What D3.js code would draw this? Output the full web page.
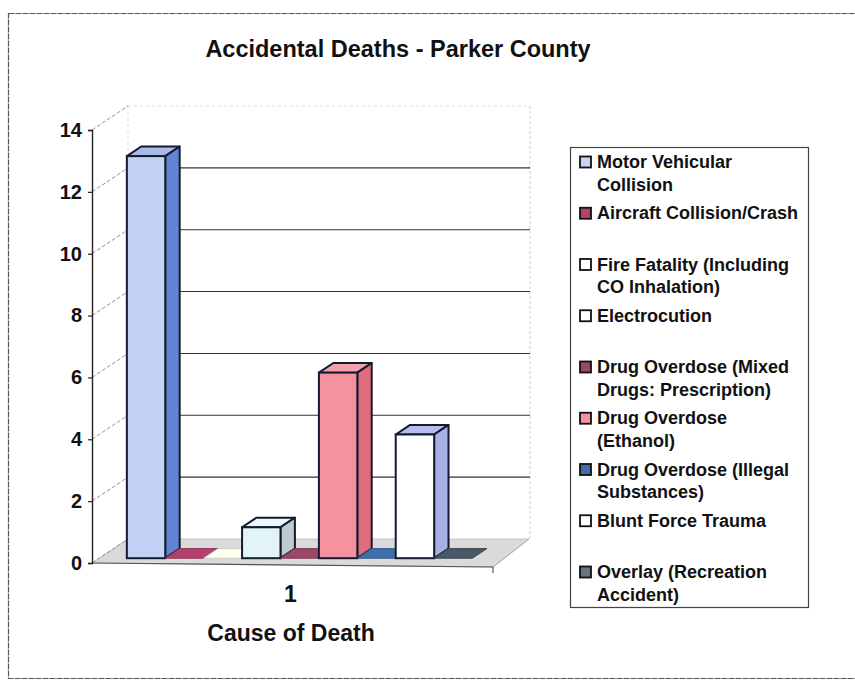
<!DOCTYPE html>
<html>
<head>
<meta charset="utf-8">
<script src="https://cdn.jsdelivr.net/npm/d3@7"></script>
<style>
  body { margin: 0; background: #fff; }
  svg text { font-family: Arial, "Liberation Sans", sans-serif; fill: #111; }
</style>
</head>
<body>
<div id="chart"></div>
<script>
// Chart data
var categories = ["1"];
var series = [
  "Motor Vehicular Collision",
  "Aircraft Collision/Crash",
  "Fire Fatality (Including CO Inhalation)",
  "Electrocution",
  "Drug Overdose (Mixed Drugs: Prescription)",
  "Drug Overdose (Ethanol)",
  "Drug Overdose (Illegal Substances)",
  "Blunt Force Trauma",
  "Overlay (Recreation Accident)"
];
var values = [13, 0, 0, 1, 0, 6, 0, 4, 0];
var yTicks = [0, 2, 4, 6, 8, 10, 12, 14];

// legend text broken the way the original wraps it
var legendLines = [
  ["Motor Vehicular", "Collision"],
  ["Aircraft Collision/Crash"],
  ["Fire Fatality (Including", "CO Inhalation)"],
  ["Electrocution"],
  ["Drug Overdose (Mixed", "Drugs: Prescription)"],
  ["Drug Overdose", "(Ethanol)"],
  ["Drug Overdose (Illegal", "Substances)"],
  ["Blunt Force Trauma"],
  ["Overlay (Recreation", "Accident)"]
];

// front / side / top colours for each series
var faceColors = ["#c3d2f4", "#b4406e", "#fffff2", "#e2f4f8", "#9a4866", "#f4929e", "#3f6eaa", "#ffffff", "#4a5868"];
var sideColors = ["#6384d4", "#8e2e56", "#e8e8d8", "#bccccc", "#7a3450", "#de6c7c", "#2e5688", "#a8b0e6", "#384450"];
var topColors  = ["#a8bae6", "#b4406e", "#fffff2", "#eaf8fc", "#9a4866", "#f2a2ac", "#3f6eaa", "#b4bcf0", "#4a5868"];
var legendColors = ["#c8d4f0", "#b4406e", "#ffffff", "#ffffff", "#9a4866", "#f4929e", "#3f6eaa", "#ffffff", "#6a7480"];

var svgWidth = 855;
var svgHeight = 681;

var plot = { left: 92, right: 493, top: 130, bottom: 563 };
var depth = { dx: 36, dy: 24 };  // 3D depth offset of back wall
var barZ0 = 0.2, barZ1 = 0.6;    // bar depth position (0 = front, 1 = back)

var svg = d3.select("#chart")
  .append("svg")
  .attr("width", svgWidth)
  .attr("height", svgHeight);

// outer chart border (right side runs off the page like the scan)
svg.append("rect")
  .attr("x", 8.5).attr("y", 13.5)
  .attr("width", 860).attr("height", 665)
  .attr("fill", "none")
  .attr("stroke", "#555")
  .attr("stroke-width", 1.2)
  .attr("stroke-dasharray", "6,1");

// scales
var yScale = d3.scaleLinear()
  .domain([0, 14])
  .range([plot.bottom, plot.top]);

var xCat = d3.scaleBand()
  .domain(categories)
  .range([plot.left, plot.right]);

var xSeries = d3.scaleBand()
  .domain(series)
  .range([0, xCat.bandwidth()])
  .paddingInner(0)
  .paddingOuter(0.72);

// project (x, value, z) into screen coords
function px(x, z) { return x + z * depth.dx; }
function py(v, z) { return yScale(v) - z * depth.dy; }

var g = svg.append("g");

// floor
var floorPts = [
  [px(plot.left, 0), py(0, 0)],
  [px(plot.right, 0), py(0, 0) + 4],
  [px(plot.right, 1), py(0, 1)],
  [px(plot.left, 1), py(0, 1)]
];
g.append("polygon")
  .attr("points", floorPts.map(p => p.join(",")).join(" "))
  .attr("fill", "#dadada")
  .attr("stroke", "#bbb")
  .attr("stroke-width", 0.8);

// back wall edges
var backRight = px(plot.right, 1) + 1;
g.append("line")
  .attr("x1", backRight).attr("x2", backRight)
  .attr("y1", py(14, 1)).attr("y2", py(0, 1))
  .attr("stroke", "#ccc").attr("stroke-dasharray", "3,2");
g.append("line")
  .attr("x1", px(plot.left, 1)).attr("x2", backRight)
  .attr("y1", py(14, 1)).attr("y2", py(14, 1))
  .attr("stroke", "#ddd").attr("stroke-dasharray", "3,3");
g.append("line")
  .attr("x1", px(plot.left, 1)).attr("x2", px(plot.left, 1))
  .attr("y1", py(14, 1)).attr("y2", py(0, 1))
  .attr("stroke", "#ddd").attr("stroke-dasharray", "3,3");

// gridlines on back wall + diagonal lines on side wall
g.selectAll(".grid")
  .data(yTicks.filter(d => d > 0 && d < 14))
  .join("line")
  .attr("class", "grid")
  .attr("x1", px(plot.left, 1))
  .attr("x2", backRight)
  .attr("y1", d => py(d, 1))
  .attr("y2", d => py(d, 1))
  .attr("stroke", "#333")
  .attr("stroke-width", 1.1);

g.selectAll(".side")
  .data(yTicks)
  .join("line")
  .attr("class", "side")
  .attr("x1", px(plot.left, 0))
  .attr("x2", px(plot.left, 1))
  .attr("y1", d => py(d, 0))
  .attr("y2", d => py(d, 1))
  .attr("stroke", "#888")
  .attr("stroke-width", 0.9)
  .attr("stroke-dasharray", "4,2");

// floor right edge and category tick
g.append("line")
  .attr("x1", px(plot.right, 0)).attr("y1", py(0, 0) + 4)
  .attr("x2", px(plot.right, 1)).attr("y2", py(0, 1))
  .attr("stroke", "#aaa");
g.append("line")
  .attr("x1", plot.left).attr("y1", py(0, 0))
  .attr("x2", plot.right).attr("y2", py(0, 0) + 4)
  .attr("stroke", "#555").attr("stroke-width", 1.2);
g.append("line")
  .attr("x1", plot.right).attr("x2", plot.right)
  .attr("y1", py(0, 0) + 4).attr("y2", py(0, 0) + 10)
  .attr("stroke", "#333");

// bars, left to right
var bars = g.selectAll(".bar")
  .data(series.map((s, i) => ({ name: s, value: values[i], i: i })))
  .join("g")
  .attr("class", "bar");

bars.each(function(d) {
  var sel = d3.select(this);
  var x0 = xCat("1") + xSeries(d.name);
  var x1 = x0 + xSeries.bandwidth();
  var v = d.value;
  var pt = (x, val, z) => [px(x, z), py(val, z)].join(",");
  var stroke = "#141a30";
  var sw = d.value > 0 ? 2 : 1;
  // top face
  sel.append("polygon")
    .attr("points", [pt(x0, v, barZ0), pt(x1, v, barZ0), pt(x1, v, barZ1), pt(x0, v, barZ1)].join(" "))
    .attr("fill", topColors[d.i])
    .attr("stroke", d.value > 0 ? stroke : d3.color(faceColors[d.i]).darker(0.6))
    .attr("stroke-width", sw)
    .attr("stroke-linejoin", "round");
  if (v > 0) {
    // side face
    sel.append("polygon")
      .attr("points", [pt(x1, 0, barZ0), pt(x1, 0, barZ1), pt(x1, v, barZ1), pt(x1, v, barZ0)].join(" "))
      .attr("fill", sideColors[d.i])
      .attr("stroke", stroke)
      .attr("stroke-width", sw)
      .attr("stroke-linejoin", "round");
    // front face
    sel.append("rect")
      .attr("x", px(x0, barZ0))
      .attr("y", py(v, barZ0))
      .attr("width", x1 - x0)
      .attr("height", yScale(0) - yScale(v))
      .attr("fill", faceColors[d.i])
      .attr("stroke", stroke)
      .attr("stroke-width", sw);
  }
});

// y axis
var leftAxis = d3.axisLeft(yScale)
  .tickValues(yTicks)
  .tickSize(4)
  .tickPadding(6);

var yAxis = svg.append("g")
  .attr("transform", `translate(${plot.left}, 0)`)
  .call(leftAxis);
yAxis.select(".domain").attr("stroke", "#222").attr("stroke-width", 1.4);
yAxis.selectAll(".tick line").attr("stroke", "#222").attr("stroke-width", 1.2);
yAxis.selectAll(".tick text")
  .attr("font-size", "20px")
  .attr("font-weight", "bold")
  .attr("font-family", "Arial, 'Liberation Sans', sans-serif")
  .attr("fill", "#111");

// category label
svg.append("text")
  .attr("x", xCat("1") + xCat.bandwidth() / 2 - 2)
  .attr("y", 602)
  .attr("text-anchor", "middle")
  .attr("font-size", "23px")
  .attr("font-weight", "bold")
  .text(categories[0]);

// axis title
svg.append("text")
  .attr("x", 291)
  .attr("y", 641)
  .attr("text-anchor", "middle")
  .attr("font-size", "23px")
  .attr("font-weight", "bold")
  .text("Cause of Death");

// chart title
svg.append("text")
  .attr("x", 398)
  .attr("y", 57)
  .attr("text-anchor", "middle")
  .attr("font-size", "23.5px")
  .attr("font-weight", "bold")
  .text("Accidental Deaths - Parker County");

// legend
var legend = svg.append("g");
legend.append("rect")
  .attr("x", 570.5).attr("y", 147.5)
  .attr("width", 238).attr("height", 460)
  .attr("fill", "#fff")
  .attr("stroke", "#444")
  .attr("stroke-width", 1.2);

var legendItems = legend.selectAll(".item")
  .data(legendLines)
  .join("g")
  .attr("class", "item")
  .attr("transform", (d, i) => `translate(580, ${168 + i * 51.25})`);

legendItems.append("rect")
  .attr("x", 0).attr("y", -11.5)
  .attr("width", 11).attr("height", 11)
  .attr("fill", (d, i) => legendColors[i])
  .attr("stroke", "#111")
  .attr("stroke-width", 1.8);

legendItems.each(function(lines) {
  var t = d3.select(this).append("text")
    .attr("x", 17)
    .attr("y", 0)
    .attr("font-size", "18px")
    .attr("font-weight", "bold");
  lines.forEach((line, k) => {
    t.append("tspan")
      .attr("x", 17)
      .attr("dy", k === 0 ? 0 : 22.5)
      .text(line);
  });
});
</script>
</body>
</html>
